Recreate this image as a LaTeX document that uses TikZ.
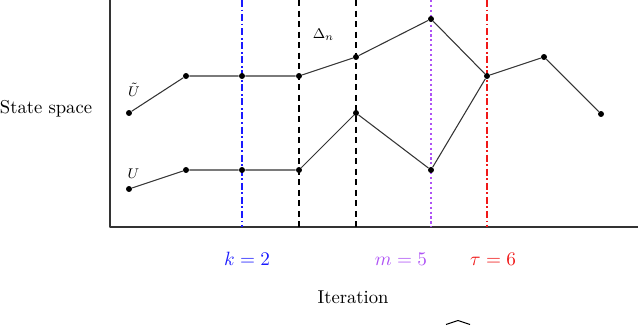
\documentclass[tikz,border=0pt]{standalone}
\usepackage{tikz}
\usetikzlibrary{arrows.meta, positioning, calc}
\definecolor{stopblue}{HTML}{1A1AFF}
\definecolor{stopviolet}{HTML}{AE52F5}
\definecolor{stopred}{HTML}{F01818}
\definecolor{pathgray}{HTML}{333333}

\tikzset{
  pt/.style={circle, fill=black, inner sep=0pt, minimum size=3.4pt},
  walk/.style={line width=0.6pt, pathgray},
  mark line/.style={line width=1.1pt},
  axis text/.style={font=\fontsize{10.6}{13}\selectfont}
}

\begin{document}
\begin{tikzpicture}[line cap=butt, line join=round]
      \useasboundingbox (0,0) rectangle (12.8,6.5);

      % Ejes
      \coordinate (origin) at (2.2,1.96);
      \draw[line width=1.4pt, pathgray] (2.2,6.5) -- (origin) -- (12.76,1.96);

      % Lineas verticales
      \draw[mark line, stopblue, dash pattern=on 4pt off 1.5pt on 1pt off 1.5pt] (4.84,6.5) -- (4.84,1.96);
      \draw[mark line, black, dash pattern=on 3.5pt off 2.5pt] (5.98,6.5) -- (5.98,1.96);
      \draw[mark line, black, dash pattern=on 3.5pt off 2.5pt] (7.12,6.5) -- (7.12,1.96);
      \draw[mark line, stopviolet, dash pattern=on 1.2pt off 1.6pt] (8.62,6.5) -- (8.62,1.96);
      \draw[mark line, stopred, dash pattern=on 4pt off 1.5pt on 1pt off 1.5pt] (9.74,6.5) -- (9.74,1.96);

      % Trayectoria U tilde
      \node[pt] (v0) at (2.58,4.24) {};
      \node[pt] (v1) at (3.72,4.98) {};
      \node[pt] (v2) at (4.84,4.98) {};
      \node[pt] (v3) at (5.98,4.98) {};
      \node[pt] (v4) at (7.12,5.36) {};
      \node[pt] (v5) at (8.62,6.12) {};
      \node[pt] (v6) at (9.74,4.98) {};
      \node[pt] (v7) at (10.88,5.36) {};
      \node[pt] (v8) at (12.02,4.22) {};
      \draw[walk] (v0) -- (v1) -- (v2) -- (v3) -- (v4) -- (v5) -- (v6) -- (v7) -- (v8);

      % Trayectoria U
      \node[pt] (u0) at (2.58,2.72) {};
      \node[pt] (u1) at (3.72,3.10) {};
      \node[pt] (u2) at (4.84,3.10) {};
      \node[pt] (u3) at (5.98,3.10) {};
      \node[pt] (u4) at (7.12,4.24) {};
      \node[pt] (u5) at (8.62,3.10) {};
      \draw[walk] (u0) -- (u1) -- (u2) -- (u3) -- (u4) -- (u5) -- (v6);

      % Etiquetas
      \node[font=\footnotesize, inner sep=1pt] (vlabel) at (2.68,4.70) {$\tilde{U}$};
      \node[font=\footnotesize, inner sep=1pt] (ulabel) at (2.67,3.02) {$U$};
      \node[font=\footnotesize] (gap) at (6.47,5.80) {$\Delta_n$};
      \node[axis text] (ylabel) at (0.92,4.32) {State space};
      \node[axis text] (xlabel) at (7.06,0.56) {Iteration};
      \node[axis text, stopblue] (kstop) at (4.94,1.32) {$k=2$};
      \node[axis text, stopviolet] (mstop) at (8.02,1.32) {$m=5$};
      \node[axis text, stopred] (taustop) at (9.86,1.32) {$\tau=6$};

      % Sombrero inferior
      \draw[line width=0.6pt] (8.92,0.01) -- (9.16,0.09) -- (9.40,0.01);
    \end{tikzpicture}
\end{document}
